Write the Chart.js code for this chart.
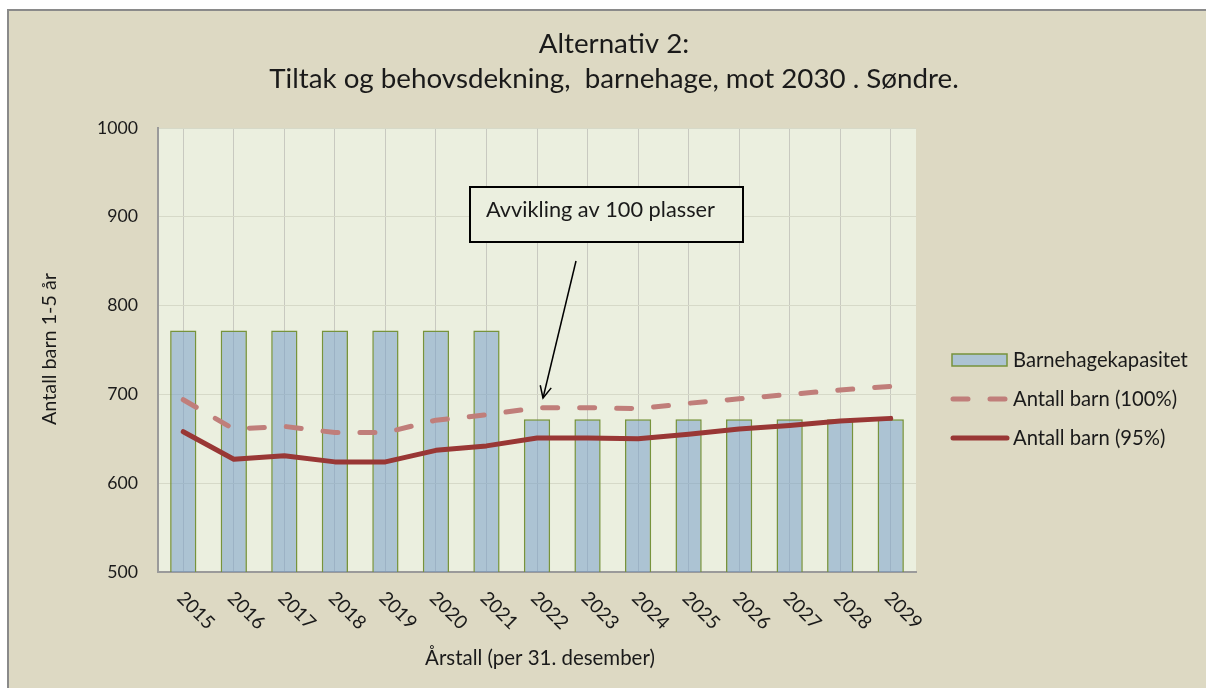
<!DOCTYPE html>
<html>
<head>
<meta charset="utf-8">
<script src="https://cdn.jsdelivr.net/npm/chart.js@4.4.1/dist/chart.umd.min.js"></script>
<style>
  html, body { margin: 0; padding: 0; background: #ffffff; overflow: hidden; }
  canvas { display: block; }
</style>
</head>
<body>
<canvas id="c" width="1206" height="688"></canvas>
<script>
const years = ['2015','2016','2017','2018','2019','2020','2021','2022','2023','2024','2025','2026','2027','2028','2029'];
const capacity = [772, 772, 772, 772, 772, 772, 772, 672, 672, 672, 672, 672, 672, 672, 672];
const children100 = [694, 661, 664, 657, 657, 671, 677, 685, 685, 684, 690, 695, 700, 705, 709];
const children95 = [658, 627, 631, 624, 624, 637, 642, 651, 651, 650, 655, 661, 665, 670, 673];
const yMin = 500, yMax = 1000, yStep = 100;

const titleLines = ['Alternativ 2:', 'Tiltak og behovsdekning,  barnehage, mot 2030 . Søndre.'];
const yTitle = 'Antall barn 1-5 år';
const xTitle = 'Årstall (per 31. desember)';
const noteText = 'Avvikling av 100 plasser';

const FONT = 'Lato, "DejaVu Sans", sans-serif';
const TEXT = '#1a1a1a';

// font sizes chosen so text widths match the reference picture
const mctx = document.createElement('canvas').getContext('2d');
function fit(text, width) {
  mctx.font = '100px ' + FONT;
  return 100 * width / mctx.measureText(text).width;
}
const SZ_TITLE = fit(titleLines[1], 690);
const SZ_NOTE = fit(noteText, 229);
const SZ_XTITLE = fit(xTitle, 230);
const SZ_YTITLE = fit(yTitle, 152);
const SZ_LEGEND = fit('Barnehagekapasitet', 175);
const SZ_YTICK = fit('1000', 41);
const SZ_XTICK = fit('2015', 44);

const deco = {
  id: 'deco',
  beforeDraw(chart) {
    const ctx = chart.ctx, a = chart.chartArea;
    ctx.save();
    ctx.fillStyle = '#ffffff';
    ctx.fillRect(0, 0, chart.width, chart.height);
    ctx.fillStyle = '#ddd9c3';
    ctx.fillRect(8, 10, chart.width - 8, chart.height - 10);
    ctx.strokeStyle = '#8a8a8a';
    ctx.lineWidth = 2;
    ctx.beginPath();
    ctx.moveTo(8, chart.height);
    ctx.lineTo(8, 10);
    ctx.lineTo(chart.width, 10);
    ctx.stroke();
    ctx.fillStyle = '#ebefdf';
    ctx.fillRect(a.left, a.top, a.right - a.left, a.bottom - a.top);
    ctx.restore();
  },
  afterDraw(chart) {
    const ctx = chart.ctx, a = chart.chartArea;
    const xs = chart.scales.x, ys = chart.scales.y;
    ctx.save();
    ctx.fillStyle = TEXT;
    // title
    ctx.font = SZ_TITLE + 'px ' + FONT;
    ctx.textAlign = 'center';
    ctx.textBaseline = 'middle';
    ctx.fillText(titleLines[0], 614, 44);
    ctx.fillText(titleLines[1], 614, 79);
    // y title
    ctx.save();
    ctx.font = SZ_YTITLE + 'px ' + FONT;
    ctx.translate(50, 349);
    ctx.rotate(-Math.PI / 2);
    ctx.fillText(yTitle, 0, 0);
    ctx.restore();
    // x title
    ctx.font = SZ_XTITLE + 'px ' + FONT;
    ctx.fillText(xTitle, 540, 658);
    // x tick labels rotated down-right
    ctx.font = SZ_XTICK + 'px ' + FONT;
    ctx.textAlign = 'left';
    years.forEach((yr, i) => {
      const px = xs.getPixelForValue(i);
      ctx.save();
      ctx.translate(px - 3, a.bottom + 23);
      ctx.rotate(Math.PI / 4);
      ctx.fillText(yr, 0, 0);
      ctx.restore();
    });
    // legend
    const ds = chart.data.datasets;
    const order = [2, 0, 1];
    const ly = [360, 399, 438];
    ctx.font = SZ_LEGEND + 'px ' + FONT;
    ctx.textAlign = 'left';
    order.forEach((di, k) => {
      const d = ds[di];
      const y = ly[k];
      if (d.type === 'bar') {
        ctx.fillStyle = '#ebefdf';
        ctx.fillRect(952, y - 6, 55, 12);
        ctx.fillStyle = d.backgroundColor;
        ctx.fillRect(952, y - 6, 55, 12);
        ctx.strokeStyle = d.borderColor;
        ctx.lineWidth = 1.5;
        ctx.strokeRect(952, y - 6, 55, 12);
      } else {
        ctx.strokeStyle = d.borderColor;
        ctx.lineWidth = d.borderWidth;
        ctx.lineCap = 'round';
        ctx.setLineDash(d.borderDash || []);
        ctx.beginPath();
        ctx.moveTo(953, y);
        ctx.lineTo(1007, y);
        ctx.stroke();
        ctx.setLineDash([]);
        ctx.lineCap = 'butt';
      }
      ctx.fillStyle = TEXT;
      ctx.fillText(d.label, 1013, y);
    });
    // annotation box
    ctx.fillStyle = '#ebefdf';
    ctx.fillRect(470, 187, 273, 55);
    ctx.strokeStyle = '#000000';
    ctx.lineWidth = 2;
    ctx.strokeRect(470, 187, 273, 55);
    ctx.fillStyle = TEXT;
    ctx.font = SZ_NOTE + 'px ' + FONT;
    ctx.textAlign = 'left';
    ctx.fillText(noteText, 486, 210);
    // arrow pointing at the 2022 capacity cut
    const tipX = xs.getPixelForValue(7) + 6;
    const tipY = ys.getPixelForValue(696);
    const tailX = tipX + 33, tailY = tipY - 137;
    ctx.strokeStyle = '#000000';
    ctx.lineWidth = 1.5;
    ctx.beginPath();
    ctx.moveTo(tailX, tailY);
    ctx.lineTo(tipX, tipY);
    ctx.stroke();
    const ang = Math.atan2(tipY - tailY, tipX - tailX);
    const hl = 13, hw = 0.45;
    ctx.beginPath();
    ctx.moveTo(tipX - hl * Math.cos(ang - hw), tipY - hl * Math.sin(ang - hw));
    ctx.lineTo(tipX, tipY);
    ctx.lineTo(tipX - hl * Math.cos(ang + hw), tipY - hl * Math.sin(ang + hw));
    ctx.stroke();
    ctx.restore();
  }
};

new Chart(document.getElementById('c'), {
  type: 'bar',
  data: {
    labels: years,
    datasets: [
      {
        type: 'line', label: 'Antall barn (100%)', data: children100,
        borderColor: '#c07e7a', borderWidth: 5, borderDash: [15, 22], borderCapStyle: 'round',
        pointRadius: 0, tension: 0, fill: false, order: 1
      },
      {
        type: 'line', label: 'Antall barn (95%)', data: children95,
        borderColor: '#993735', borderWidth: 5, borderCapStyle: 'round', borderJoinStyle: 'round',
        pointRadius: 0, tension: 0, fill: false, order: 0
      },
      {
        type: 'bar', label: 'Barnehagekapasitet', data: capacity,
        backgroundColor: 'rgba(120,158,200,0.55)', borderColor: '#77933c', borderWidth: 1.5,
        barPercentage: 0.52, categoryPercentage: 1, order: 2
      }
    ]
  },
  options: {
    responsive: false,
    animation: false,
    devicePixelRatio: 1,
    layout: { padding: { top: 128, right: 290, left: 0, bottom: 0 } },
    plugins: { legend: { display: false }, tooltip: { enabled: false }, title: { display: false } },
    scales: {
      x: {
        offset: true,
        grid: { offset: false, color: '#c8c9c0', lineWidth: 1, drawTicks: false },
        border: { color: '#9a9a9a', width: 2 },
        ticks: { display: false },
        afterFit: s => { s.height = 116; }
      },
      y: {
        min: yMin, max: yMax,
        ticks: { stepSize: yStep, padding: 20, color: TEXT, font: { family: FONT, size: SZ_YTICK },
                 callback: v => String(v) },
        grid: { color: '#d6d9c8', lineWidth: 1, drawTicks: false },
        border: { color: '#9a9a9a', width: 2 },
        afterFit: s => { s.width = 158; }
      }
    }
  },
  plugins: [deco]
});
</script>
</body>
</html>
